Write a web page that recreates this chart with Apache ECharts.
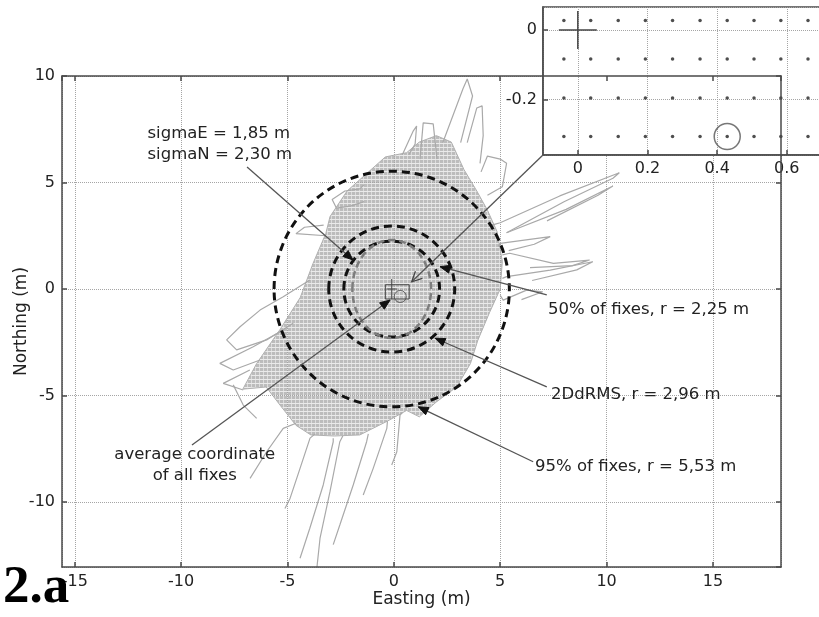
<!DOCTYPE html>
<html>
<head>
<meta charset="utf-8">
<script src="https://cdn.jsdelivr.net/npm/echarts@6.0.0/dist/echarts.min.js"></script>
<style>
html,body{margin:0;padding:0;background:#ffffff;}
#chart{width:819px;height:617px;}
</style>
</head>
<body>
<div id="chart"></div>
<script>
// ---------- values (metres) ----------
// dense core of the GPS fix cloud (outline)
const coreOutline = [
  [-3.2, 2.6], [-3.0, 3.4], [-2.2, 4.6], [-1.3, 5.4], [-0.4, 6.2], [0.6, 6.4], [1.2, 6.9], [2.0, 7.2],
  [2.7, 6.9], [3.3, 5.6], [3.9, 4.6], [4.4, 3.7], [4.85, 2.7], [5.1, 1.3], [5.0, 0.0], [4.5, -1.1],
  [3.95, -2.4], [3.6, -3.5], [2.95, -4.6], [2.0, -5.3], [1.2, -6.0], [0.6, -5.7], [-0.3, -6.2],
  [-1.6, -6.85], [-2.8, -6.9], [-3.9, -6.85], [-4.6, -6.4], [-5.35, -5.45], [-6.0, -4.6], [-7.1, -4.7],
  [-6.45, -3.5], [-5.35, -1.9], [-4.4, -0.4], [-3.8, 1.2]
];
// individual track excursions outside the core
const tracks = [
  [[0.4, 6.3], [0.9, 7.4], [1.07, 7.65], [1.0, 6.8], [0.7, 6.3]],
  [[1.23, 6.1], [1.38, 7.8], [1.85, 7.75], [2.03, 6.1]],
  [[2.3, 6.87], [3.25, 9.4], [3.45, 9.86], [3.7, 9.06], [3.14, 6.87]],
  [[3.45, 6.87], [3.9, 8.5], [4.15, 8.6], [4.2, 7.2], [4.05, 5.9]],
  [[4.1, 5.5], [4.4, 6.24], [5.0, 6.1], [5.3, 5.9], [5.1, 4.8], [4.4, 4.4]],
  [[4.6, 3.0], [5.0, 3.11], [7.8, 4.37], [10.6, 5.46], [10.3, 5.2], [8.0, 4.1], [5.3, 2.64]],
  [[5.3, 2.64], [8.1, 3.74], [10.3, 4.84], [9.6, 4.4], [7.2, 3.2]],
  [[4.9, 2.0], [5.0, 2.14], [7.35, 2.46], [6.6, 2.1], [5.4, 1.8]],
  [[5.1, 1.6], [5.45, 1.68], [7.5, 1.2], [9.2, 1.36], [8.4, 1.1], [6.4, 1.0]],
  [[5.1, 0.5], [5.3, 0.58], [7.35, 0.89], [9.35, 1.28], [8.6, 0.9], [6.5, 0.4]],
  [[5.0, -0.3], [5.14, -0.52], [6.24, -0.05], [7.0, -0.13], [6.0, -0.5]],
  [[-4.6, -6.3], [-5.2, -6.54], [-5.98, -7.64], [-6.76, -8.89]],
  [[-3.7, -6.8], [-3.94, -7.0], [-4.41, -8.42], [-4.88, -9.83], [-5.12, -10.3]],
  [[-2.85, -7.0], [-2.85, -7.17], [-3.32, -9.2], [-3.95, -11.23], [-4.41, -12.64]],
  [[-2.4, -6.9], [-2.54, -7.17], [-3.0, -9.5], [-3.47, -11.7], [-3.63, -13.2]],
  [[-1.2, -6.8], [-1.28, -7.17], [-1.91, -9.2], [-2.54, -11.08], [-2.85, -12.0]],
  [[-0.3, -6.2], [-0.33, -6.54], [-0.97, -8.42], [-1.44, -9.67]],
  [[0.4, -5.8], [0.29, -5.92], [0.14, -7.64], [-0.1, -8.26]],
  [[-3.95, 0.42], [-5.2, -0.36], [-6.29, -0.99], [-7.23, -1.77], [-7.86, -2.39], [-7.39, -2.86], [-5.98, -2.39], [-4.73, -1.61]],
  [[-5.2, -1.92], [-6.61, -2.71], [-8.18, -3.49], [-7.55, -3.8], [-6.29, -3.33]],
  [[-6.77, -3.8], [-8.02, -4.43], [-7.08, -4.74]],
  [[-7.55, -4.5], [-7.08, -5.45], [-6.45, -6.07]],
  [[-1.4, 4.9], [-1.6, 4.7], [-2.3, 4.6], [-2.9, 4.2], [-2.7, 3.8], [-2.0, 3.9], [-1.4, 4.1]],
  [[-3.2, 2.5], [-4.6, 2.6], [-4.2, 2.9], [-3.3, 3.0]]
];
const circleCenter = [-0.1, 0.0];
const circleRadii = [2.25, 2.96, 5.53];          // 50 %, 2DdRMS, 95 %
const sigmaAxes = [1.85, 2.30];                  // sigmaE, sigmaN
const centerBox = [[-0.4, -0.47], [0.72, 0.2]];
const centerMarker = [0.3, -0.35];
const centerCross = [-0.1, 0.0];
// inset (zoomed view of the fixes)
const insetColumnsX = [-0.040, 0.037, 0.116, 0.194, 0.272, 0.351, 0.429, 0.506, 0.583, 0.661];
const insetRowsY = [0.027, -0.084, -0.196, -0.307];
const insetCross = [0, 0];
const insetHighlighted = [0.429, -0.307];
// annotations
const annotationTexts = [
  'sigmaE = 1,85 m\nsigmaN = 2,30 m',
  'average coordinate\nof all fixes',
  '50% of fixes, r = 2,25 m',
  '2DdRMS, r = 2,96 m',
  '95% of fixes, r = 5,53 m'
];
const annotationAnchors = [[-11.58, 6.81], [-9.36, -8.26], [7.25, -0.99], [7.39, -4.98], [6.64, -8.36]];
const annotationAlign = ['left', 'center', 'left', 'left', 'left'];
const arrowFrom = [[-6.90, 5.73], [-9.49, -7.32], [7.19, -0.28], [7.19, -4.59], [6.55, -8.11], [7.01, 6.29]];
const arrowTo = [[-1.92, 1.36], [-0.18, -0.52], [2.17, 1.05], [1.94, -2.31], [1.15, -5.53], [0.84, 0.34]];
const arrowKinds = ['filled', 'filled', 'filled', 'filled', 'filled', 'open'];

// ---------- chart ----------
const FONT = 'DejaVu Sans';
const TXT = '#222222';
const frame = {color: '#4a4a4a', width: 1.5};
const chart = echarts.init(document.getElementById('chart'));

// texture of the densely quantised fixes
const tex = document.createElement('canvas');
tex.width = 4; tex.height = 4;
(function () {
  const g = tex.getContext('2d');
  g.fillStyle = '#bcbcbc'; g.fillRect(0, 0, 4, 4);
  g.fillStyle = '#eaeaea'; g.fillRect(0, 3, 4, 1);
  g.fillStyle = '#dcdcdc'; g.fillRect(3, 0, 1, 3);
})();

const onlyMultiples = step => v => {
  const k = v / step;
  if (Math.abs(k - Math.round(k)) > 1e-6) return '';
  const r = Math.round(k) * step;
  return String(Math.round(r * 1000) / 1000);
};

const series = [];
// core cloud
series.push({
  type: 'custom', xAxisIndex: 0, yAxisIndex: 0, z: 2, clip: true, silent: true,
  data: coreOutline, encode: {x: 0, y: 1},
  renderItem: (params, api) => {
    if (params.dataIndex !== 0) return;
    return {type: 'polygon', shape: {points: coreOutline.map(p => api.coord(p))},
      style: {fill: {image: tex, repeat: 'repeat'}, stroke: '#b0b0b0', lineWidth: 1}};
  }
});
// tracks
tracks.forEach(t => series.push({
  type: 'line', xAxisIndex: 0, yAxisIndex: 0, z: 2, data: t, symbol: 'none', silent: true,
  clip: true, lineStyle: {color: '#a9a9a9', width: 1.2}
}));
// dashed circles
series.push({
  type: 'custom', xAxisIndex: 0, yAxisIndex: 0, z: 4, clip: true, silent: true,
  data: circleRadii.map(r => [circleCenter[0], circleCenter[1], r]), encode: {x: 0, y: 1},
  renderItem: (params, api) => {
    const c = api.coord([api.value(0), api.value(1)]);
    const s = api.size([api.value(2), api.value(2)]);
    return {type: 'ellipse', shape: {cx: c[0], cy: c[1], rx: s[0], ry: s[1]},
      style: {fill: 'none', stroke: '#111', lineWidth: 3, lineDash: [8, 5]}};
  }
});
// sigma ellipse
series.push({
  type: 'custom', xAxisIndex: 0, yAxisIndex: 0, z: 4, clip: true, silent: true,
  data: [[circleCenter[0], circleCenter[1], sigmaAxes[0], sigmaAxes[1]]], encode: {x: 0, y: 1},
  renderItem: (params, api) => {
    const c = api.coord([api.value(0), api.value(1)]);
    const s = api.size([api.value(2), api.value(3)]);
    return {type: 'ellipse', shape: {cx: c[0], cy: c[1], rx: s[0], ry: s[1]},
      style: {fill: 'none', stroke: '#7d7d7d', lineWidth: 2.5, lineDash: [7, 4]}};
  }
});
// center box, marker and cross
series.push({
  type: 'custom', xAxisIndex: 0, yAxisIndex: 0, z: 6, clip: true, silent: true,
  data: [[centerBox[0][0], centerBox[0][1], centerBox[1][0], centerBox[1][1]]], encode: {x: 0, y: 1},
  renderItem: (params, api) => {
    const a = api.coord([api.value(0), api.value(1)]);
    const b = api.coord([api.value(2), api.value(3)]);
    return {type: 'rect', shape: {x: Math.min(a[0], b[0]), y: Math.min(a[1], b[1]),
      width: Math.abs(b[0] - a[0]), height: Math.abs(b[1] - a[1])},
      style: {fill: 'none', stroke: '#444', lineWidth: 1}};
  }
});
series.push({
  type: 'scatter', xAxisIndex: 0, yAxisIndex: 0, z: 6, silent: true, data: [centerMarker],
  symbol: 'circle', symbolSize: 12, itemStyle: {color: 'rgba(0,0,0,0)', borderColor: '#444', borderWidth: 1}
});
series.push({
  type: 'custom', xAxisIndex: 0, yAxisIndex: 0, z: 6, silent: true, data: [centerCross], encode: {x: 0, y: 1},
  renderItem: (params, api) => {
    const c = api.coord([api.value(0), api.value(1)]);
    return {type: 'group', children: [
      {type: 'line', shape: {x1: c[0], y1: c[1] - 10, x2: c[0], y2: c[1] + 10}, style: {stroke: '#444', lineWidth: 1}},
      {type: 'line', shape: {x1: c[0] - 5, y1: c[1], x2: c[0] + 5, y2: c[1]}, style: {stroke: '#444', lineWidth: 1}}
    ]};
  }
});
// annotation arrows
series.push({
  type: 'custom', xAxisIndex: 0, yAxisIndex: 0, z: 8, clip: false, silent: true,
  data: arrowFrom.map((f, i) => [f[0], f[1], arrowTo[i][0], arrowTo[i][1]]), encode: {x: 0, y: 1},
  renderItem: (params, api) => {
    const p1 = api.coord([api.value(0), api.value(1)]);
    const p2 = api.coord([api.value(2), api.value(3)]);
    const dx = p2[0] - p1[0], dy = p2[1] - p1[1];
    const L = Math.sqrt(dx * dx + dy * dy);
    const ux = dx / L, uy = dy / L, nx = -uy, ny = ux;
    const open = arrowKinds[params.dataIndex] === 'open';
    const len = 10, hw = open ? 5 : 4;
    const bx = p2[0] - ux * len, by = p2[1] - uy * len;
    const left = [bx + nx * hw, by + ny * hw], right = [bx - nx * hw, by - ny * hw];
    const head = open
      ? {type: 'polyline', shape: {points: [left, p2, right]}, style: {fill: 'none', stroke: '#444', lineWidth: 1.3}}
      : {type: 'polygon', shape: {points: [p2, left, right]}, style: {fill: '#111', stroke: '#111', lineWidth: 1}};
    return {type: 'group', children: [
      {type: 'line', shape: {x1: p1[0], y1: p1[1], x2: p2[0], y2: p2[1]}, style: {stroke: '#555', lineWidth: 1.3}},
      head
    ]};
  }
});
// annotation texts
series.push({
  type: 'custom', xAxisIndex: 0, yAxisIndex: 0, z: 9, clip: false, silent: true,
  data: annotationAnchors, encode: {x: 0, y: 1},
  renderItem: (params, api) => {
    const c = api.coord([api.value(0), api.value(1)]);
    return {type: 'text', x: c[0], y: c[1], style: {
      text: annotationTexts[params.dataIndex], fontFamily: FONT, fontSize: 16.5, fill: TXT,
      align: annotationAlign[params.dataIndex], verticalAlign: 'middle', lineHeight: 21}};
  }
});
// inset: quantised fixes
const insetDots = [];
insetRowsY.forEach(y => insetColumnsX.forEach(x => insetDots.push([x, y])));
series.push({
  type: 'scatter', xAxisIndex: 2, yAxisIndex: 2, z: 7, silent: true, data: insetDots,
  symbol: 'circle', symbolSize: 3.5, itemStyle: {color: '#222'}
});
series.push({
  type: 'scatter', xAxisIndex: 2, yAxisIndex: 2, z: 7, silent: true, data: [insetHighlighted],
  symbol: 'circle', symbolSize: 26, itemStyle: {color: 'rgba(0,0,0,0)', borderColor: '#555', borderWidth: 1.5}
});
series.push({
  type: 'custom', xAxisIndex: 2, yAxisIndex: 2, z: 7, silent: true, data: [insetCross], encode: {x: 0, y: 1},
  renderItem: (params, api) => {
    const c = api.coord([api.value(0), api.value(1)]);
    return {type: 'group', children: [
      {type: 'line', shape: {x1: c[0], y1: c[1] - 19, x2: c[0], y2: c[1] + 19}, style: {stroke: '#444', lineWidth: 1.5}},
      {type: 'line', shape: {x1: c[0] - 19, y1: c[1], x2: c[0] + 19, y2: c[1]}, style: {stroke: '#444', lineWidth: 1.5}}
    ]};
  }
});

const labelStyle = {fontFamily: FONT, fontSize: 16, color: TXT};
const nameStyle = {fontFamily: FONT, fontSize: 17, color: TXT};
const tickStyle = {show: true, inside: true, length: 5, lineStyle: frame};
const dotted = {show: true, lineStyle: {type: 'dotted', color: '#a5a5a5', width: 1}};

chart.setOption({
  animation: false,
  backgroundColor: '#ffffff',
  grid: [
    {left: 62, top: 76, width: 719, height: 491, show: false, outerBoundsMode: 'none', containLabel: false},
    {left: 543, top: 7, width: 296, height: 148, show: true, backgroundColor: '#ffffff',
     borderColor: '#4a4a4a', borderWidth: 1.5, z: 5, outerBoundsMode: 'none', containLabel: false}
  ],
  xAxis: [
    {gridIndex: 0, type: 'value', min: -15.6, max: 18.2, splitNumber: 6, position: 'bottom', z: 3,
     axisLine: {show: true, onZero: false, lineStyle: frame}, axisTick: tickStyle,
     axisLabel: Object.assign({margin: 7, showMinLabel: false, showMaxLabel: false, formatter: onlyMultiples(5)}, labelStyle),
     splitLine: dotted,
     name: 'Easting (m)', nameLocation: 'middle', nameGap: 24, nameMoveOverlap: false, nameTextStyle: nameStyle},
    {gridIndex: 0, type: 'value', min: -15.6, max: 18.2, splitNumber: 6, position: 'top', z: 10,
     axisLine: {show: true, onZero: false, lineStyle: frame}, axisTick: tickStyle,
     axisLabel: {show: false}, splitLine: {show: false}},
    {gridIndex: 1, type: 'value', min: -0.1, max: 0.75, splitNumber: 5, position: 'bottom', z: 6,
     axisLine: {show: true, onZero: false, lineStyle: frame}, axisTick: tickStyle,
     axisLabel: Object.assign({margin: 6, showMinLabel: false, showMaxLabel: false, formatter: onlyMultiples(0.2)}, labelStyle),
     splitLine: dotted}
  ],
  yAxis: [
    {gridIndex: 0, type: 'value', min: -13.05, max: 10, splitNumber: 5, position: 'left', z: 3,
     axisLine: {show: true, onZero: false, lineStyle: frame}, axisTick: tickStyle,
     axisLabel: Object.assign({margin: 7, showMinLabel: false, formatter: onlyMultiples(5)}, labelStyle),
     splitLine: dotted,
     name: 'Northing (m)', nameLocation: 'middle', nameGap: 32, nameRotate: 90, nameMoveOverlap: false, nameTextStyle: nameStyle},
    {gridIndex: 0, type: 'value', min: -13.05, max: 10, splitNumber: 5, position: 'right', z: 10,
     axisLine: {show: true, onZero: false, lineStyle: frame}, axisTick: tickStyle,
     axisLabel: {show: false}, splitLine: {show: false}},
    {gridIndex: 1, type: 'value', min: -0.36, max: 0.066, splitNumber: 2, position: 'left', z: 6,
     axisLine: {show: true, onZero: false, lineStyle: frame}, axisTick: tickStyle,
     axisLabel: Object.assign({margin: 6, showMinLabel: false, showMaxLabel: false, formatter: onlyMultiples(0.2)}, labelStyle),
     splitLine: dotted}
  ],
  graphic: [
    {type: 'text', left: 3, top: 562, z: 20, style: {text: '2.a', font: 'bold 53px "Liberation Serif"', fill: '#000'}}
  ],
  series: series
});
</script>
</body>
</html>
